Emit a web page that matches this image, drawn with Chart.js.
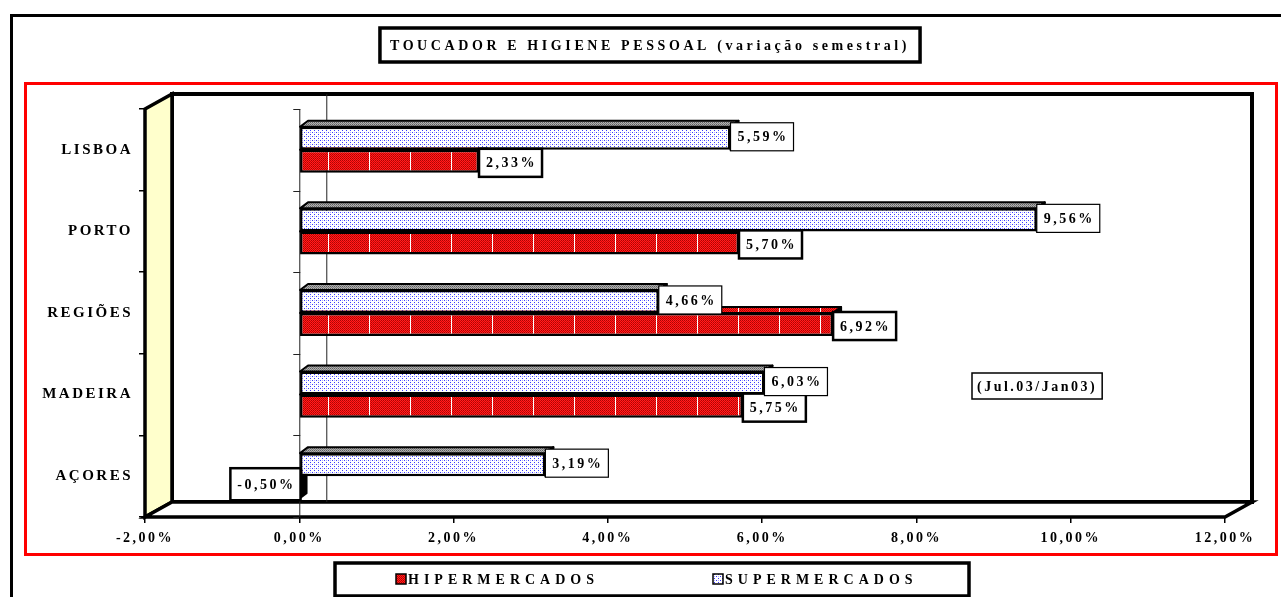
<!DOCTYPE html>
<html lang="pt">
<head>
<meta charset="UTF-8">
<title>Toucador e higiene pessoal</title>
<style>
  html, body { margin: 0; height: 100%; background: #fff; }
  .wrap { width: 1281px; height: 597px; position: relative; }
</style>
</head>
<body>
<div class="wrap"><canvas id="grafico"></canvas></div>

<script src="https://cdn.jsdelivr.net/npm/chart.js"></script>
<script>
// dados
const titulo = "TOUCADOR E HIGIENE PESSOAL (variação semestral)";
const periodo = "(Jul.03/Jan03)";
const regioes = ["LISBOA", "PORTO", "REGIÕES", "MADEIRA", "AÇORES"];
const hipermercados = [2.33, 5.70, 6.92, 5.75, -0.50];
const supermercados = [5.59, 9.56, 4.66, 6.03, 3.19];
const nomesSeries = ["HIPERMERCADOS", "SUPERMERCADOS"];
const eixoMin = -2, eixoMax = 12, eixoPasso = 2;

const serif = '"Liberation Serif", "Times New Roman", serif';
const fmt = v => Number(v).toFixed(2).replace(".", ",") + "%";

// padrões de preenchimento (tramas do Excel)
function padrao(w, h, fundo, pontos) {
  const c = document.createElement("canvas");
  c.width = w; c.height = h;
  const g = c.getContext("2d");
  g.fillStyle = fundo;
  g.fillRect(0, 0, w, h);
  pontos.forEach(([x, y, cor]) => { g.fillStyle = cor; g.fillRect(x, y, 1, 1); });
  return g.createPattern(c, "repeat");
}
const ptsVermelho = [];
for (let x = 0; x < 41; x++) {
  if (x % 2 === 0) ptsVermelho.push([x, 0, "#b00000"]);
  if (x % 2 === 1) ptsVermelho.push([x, 1, "#d00000"]);
}
ptsVermelho.push([0, 0, "#ffffff"], [0, 1, "#ffffff"]);
const tramaHiper = padrao(41, 2, "#ff2020", ptsVermelho);
const tramaSuper = padrao(4, 4, "#ffffff", [[0, 0, "#3a3aff"], [2, 2, "#3a3aff"], [2, 0, "#b0b0ff"]]);
const tramaCinza = padrao(2, 2, "#b0b0b0", [[0, 0, "#606060"], [1, 1, "#808080"]]);

const DX = 27, DY = -15; // profundidade do "3D"

const deco = {
  id: "deco",
  beforeLayout(chart) { chart.ctx.letterSpacing = "2.5px"; },
  beforeDraw(chart) {
    const { ctx, chartArea: a } = chart;
    const x0 = chart.scales.x.getPixelForValue(0);
    ctx.save();
    ctx.letterSpacing = "0px";
    ctx.fillStyle = "#fff";
    ctx.fillRect(0, 0, chart.width, chart.height);
    // molduras
    ctx.strokeStyle = "#000"; ctx.lineWidth = 3;
    ctx.strokeRect(11.5, 15.5, 1400, 700);
    ctx.strokeStyle = "#ff0000"; ctx.lineWidth = 3;
    ctx.strokeRect(25.5, 83.5, 1251, 471);
    // parede do fundo
    ctx.lineJoin = "miter";
    ctx.strokeStyle = "#000"; ctx.lineWidth = 4;
    ctx.strokeRect(a.left + DX, a.top + DY, a.right - a.left, a.bottom - a.top);
    // parede esquerda
    ctx.beginPath();
    ctx.moveTo(a.left, a.top); ctx.lineTo(a.left + DX, a.top + DY);
    ctx.lineTo(a.left + DX, a.bottom + DY); ctx.lineTo(a.left, a.bottom);
    ctx.closePath();
    ctx.fillStyle = "#ffffcc"; ctx.fill();
    ctx.lineWidth = 3.5; ctx.stroke();
    // chão
    ctx.beginPath();
    ctx.moveTo(a.left, a.bottom); ctx.lineTo(a.left + DX, a.bottom + DY);
    ctx.lineTo(a.right + DX, a.bottom + DY); ctx.lineTo(a.right, a.bottom);
    ctx.closePath();
    ctx.fillStyle = "#fff"; ctx.fill(); ctx.stroke();
    // linha do zero no fundo e na frente
    ctx.lineWidth = 1; ctx.strokeStyle = "#222";
    ctx.beginPath();
    ctx.moveTo(x0 + DX + 0.5, a.top + DY); ctx.lineTo(x0 + DX + 0.5, a.bottom + DY);
    ctx.moveTo(x0 + 0.5, a.top); ctx.lineTo(x0 + 0.5, a.bottom + 2);
    const banda = (a.bottom - a.top) / regioes.length;
    for (let i = 0; i <= regioes.length; i++) {
      const yy = Math.round(a.top + i * banda) + 0.5;
      ctx.moveTo(x0 - 6, yy); ctx.lineTo(x0 + 1, yy);
    }
    ctx.stroke();
    ctx.restore();
  },
  beforeDatasetsDraw(chart) {
    const ctx = chart.ctx;
    const d = 8, e = 6;
    ctx.save();
    [1, 0].forEach(i => {
      const meta = chart.getDatasetMeta(i);
      meta.data.forEach(bar => {
        const { x, y, base, height } = bar.getProps(["x", "y", "base", "height"], true);
        const x1 = Math.min(x, base), x2 = Math.max(x, base);
        const t = y - height / 2, b = y + height / 2;
        ctx.lineWidth = 2; ctx.strokeStyle = "#000"; ctx.lineJoin = "round";
        ctx.beginPath();
        ctx.moveTo(x1, t); ctx.lineTo(x1 + d, t - e); ctx.lineTo(x2 + d, t - e); ctx.lineTo(x2, t);
        ctx.closePath();
        ctx.fillStyle = i === 0 ? tramaCinza : tramaHiper;
        ctx.fill(); ctx.stroke();
        ctx.beginPath();
        ctx.moveTo(x2, t); ctx.lineTo(x2 + d, t - e); ctx.lineTo(x2 + d, b - e); ctx.lineTo(x2, b);
        ctx.closePath();
        ctx.fillStyle = i === 0 ? "#555" : "#000";
        ctx.fill(); ctx.stroke();
      });
    });
    ctx.restore();
  },
  afterDatasetsDraw(chart) {
    const ctx = chart.ctx;
    ctx.save();
    ctx.font = "bold 14px " + serif;
    ctx.letterSpacing = "2.5px";
    ctx.textBaseline = "middle";
    ctx.textAlign = "left";
    [1, 0].forEach(i => {
      const ds = chart.data.datasets[i];
      chart.getDatasetMeta(i).data.forEach((bar, k) => {
        const { x, y, base, height } = bar.getProps(["x", "y", "base", "height"], true);
        const txt = fmt(ds.data[k]);
        const w = ctx.measureText(txt).width + 12;
        const neg = ds.data[k] < 0;
        const h = neg ? height + 9 : height + 5;
        const bx = neg ? base + 2 - w : x;
        const t = y - height / 2;
        const by = neg ? t - 8 : (i === 0 ? t - 4 : t - 1);
        ctx.fillStyle = "#fff";
        ctx.fillRect(bx, by, w, h);
        ctx.lineWidth = i === 0 ? 1.2 : 2.5;
        ctx.strokeStyle = "#000";
        ctx.strokeRect(bx, by, w, h);
        ctx.fillStyle = "#000";
        ctx.fillText(txt, bx + 7, by + h / 2 + 1);
      });
    });
    ctx.restore();
  },
  afterDraw(chart) {
    const ctx = chart.ctx;
    ctx.save();
    ctx.textBaseline = "middle"; ctx.textAlign = "left";
    // título
    ctx.font = "bold 14px " + serif;
    ctx.letterSpacing = "3.6px";
    const tw = ctx.measureText(titulo).width;
    const tc = 650;
    ctx.strokeStyle = "#000"; ctx.lineWidth = 3.5;
    ctx.strokeRect(tc - tw / 2 - 10, 28, tw + 20, 34);
    ctx.fillStyle = "#000";
    ctx.fillText(titulo, tc - tw / 2, 46);
    // período
    ctx.letterSpacing = "2.5px";
    const pw = ctx.measureText(periodo).width;
    ctx.fillStyle = "#fff";
    ctx.fillRect(972, 373, pw + 10, 26);
    ctx.lineWidth = 1.5; ctx.strokeRect(972, 373, pw + 10, 26);
    ctx.fillStyle = "#000";
    ctx.fillText(periodo, 977, 387);
    // legenda
    ctx.lineWidth = 3.5;
    ctx.strokeRect(335, 563, 634, 33);
    const tramas = [tramaHiper, tramaSuper];
    const xs = [396, 713];
    ctx.letterSpacing = "5px";
    nomesSeries.forEach((nome, i) => {
      ctx.fillStyle = tramas[i];
      ctx.fillRect(xs[i], 574, 10, 10);
      ctx.lineWidth = 1.5; ctx.strokeStyle = "#000";
      ctx.strokeRect(xs[i], 574, 10, 10);
      ctx.fillStyle = "#000";
      ctx.fillText(nome, xs[i] + 12, 580);
    });
    ctx.restore();
  }
};

new Chart(document.getElementById("grafico"), {
  type: "bar",
  data: {
    labels: regioes,
    datasets: [
      { label: nomesSeries[1], data: supermercados, backgroundColor: tramaSuper,
        borderColor: "#000", borderWidth: 2.5, borderSkipped: false },
      { label: nomesSeries[0], data: hipermercados, backgroundColor: tramaHiper,
        borderColor: "#000", borderWidth: 2.5, borderSkipped: false }
    ]
  },
  options: {
    indexAxis: "y",
    responsive: true,
    maintainAspectRatio: false,
    animation: false,
    categoryPercentage: 0.565,
    barPercentage: 1.0,
    layout: { padding: { left: 20, right: 56, top: 109, bottom: 36 } },
    scales: {
      x: {
        type: "linear", min: eixoMin, max: eixoMax,
        ticks: { stepSize: eixoPasso, callback: v => fmt(v), color: "#000",
                 font: { family: serif, size: 14, weight: "bold" },
                 padding: 7, maxRotation: 0, autoSkip: false },
        grid: { drawOnChartArea: false, tickLength: 6, color: "#000", lineWidth: 1.5 },
        border: { display: false },
        afterFit: s => { s.height = 44; }
      },
      y: {
        ticks: { color: "#000", padding: 6,
                 font: { family: serif, size: 15, weight: "bold" } },
        grid: { drawOnChartArea: false, tickLength: 6, color: "#000", lineWidth: 1.5, offset: true },
        border: { display: false },
        afterFit: s => { s.width = 125; }
      }
    },
    plugins: {
      legend: { display: false },
      tooltip: { enabled: false },
      title: { display: false }
    }
  },
  plugins: [deco]
});
</script>
</body>
</html>
